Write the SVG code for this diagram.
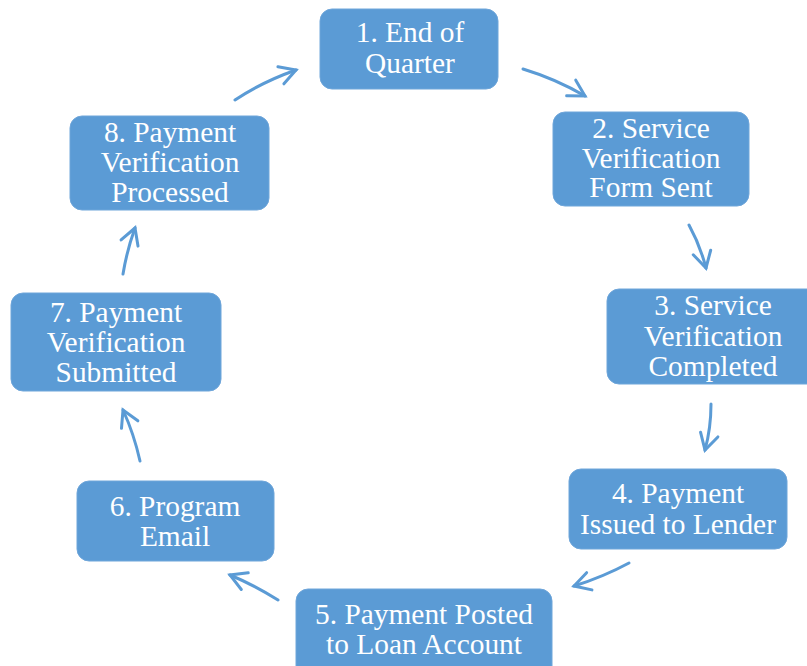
<svg xmlns="http://www.w3.org/2000/svg" width="807" height="666" viewBox="0 0 807 666">
<defs>
<style>
.box{fill:#5B9BD5;stroke:#6FA6DA;stroke-width:1}
.t{fill:#fff;font-family:"Liberation Serif","Times New Roman",serif;font-size:29.4px;text-anchor:middle}
.c{fill:none;stroke:#5B9BD5;stroke-width:3;stroke-linecap:round;marker-end:url(#ah)}
</style>
<marker id="ah" markerUnits="userSpaceOnUse" markerWidth="30" markerHeight="30" viewBox="-20 -15 30 30" refX="0" refY="0" orient="auto">
<path d="M-16,-9 L0,0 L-16,9" fill="none" stroke="#5B9BD5" stroke-width="3" stroke-linecap="round" stroke-linejoin="miter"/>
</marker>
</defs>
<rect width="807" height="666" fill="#fff"/>
<g id="connectors">
<path class="c" d="M235,100 Q262,82 296,70"/>
<path class="c" d="M523,69 Q556,79 585,96"/>
<path class="c" d="M689,225 Q700,245 706,268"/>
<path class="c" d="M711,404 Q711,428 705,450"/>
<path class="c" d="M629,563 Q603,577 574,586"/>
<path class="c" d="M278,600 Q254,585 230,575"/>
<path class="c" d="M140,461 Q134,434 123,410"/>
<path class="c" d="M123,274 Q127,250 135,228"/>
</g>
<g id="n1"><rect class="box" x="320" y="9" width="178" height="80" rx="12"/><text class="t" x="410" y="42">1. End of</text><text class="t" x="410" y="73">Quarter</text></g>
<g id="n2"><rect class="box" x="553" y="112" width="196" height="94" rx="12"/><text class="t" x="651" y="138">2. Service</text><text class="t" x="651" y="168">Verification</text><text class="t" x="651" y="197">Form Sent</text></g>
<g id="n3"><rect class="box" x="607" y="289" width="212" height="95" rx="12"/><text class="t" x="713" y="315">3. Service</text><text class="t" x="713" y="346">Verification</text><text class="t" x="713" y="376">Completed</text></g>
<g id="n4"><rect class="box" x="569" y="469" width="218" height="80" rx="12"/><text class="t" x="678" y="503">4. Payment</text><text class="t" x="678" y="534">Issued to Lender</text></g>
<g id="n5"><rect class="box" x="296" y="589" width="256" height="90" rx="12"/><text class="t" x="424" y="624">5. Payment Posted</text><text class="t" x="424" y="654">to Loan Account</text></g>
<g id="n6"><rect class="box" x="77" y="481" width="197" height="80" rx="12"/><text class="t" x="175" y="516">6. Program</text><text class="t" x="175" y="546">Email</text></g>
<g id="n7"><rect class="box" x="11" y="293" width="210" height="98" rx="12"/><text class="t" x="116" y="322">7. Payment</text><text class="t" x="116" y="352">Verification</text><text class="t" x="116" y="382">Submitted</text></g>
<g id="n8"><rect class="box" x="70" y="116" width="199" height="94" rx="12"/><text class="t" x="170" y="142">8. Payment</text><text class="t" x="170" y="172">Verification</text><text class="t" x="170" y="202">Processed</text></g>
</svg>
